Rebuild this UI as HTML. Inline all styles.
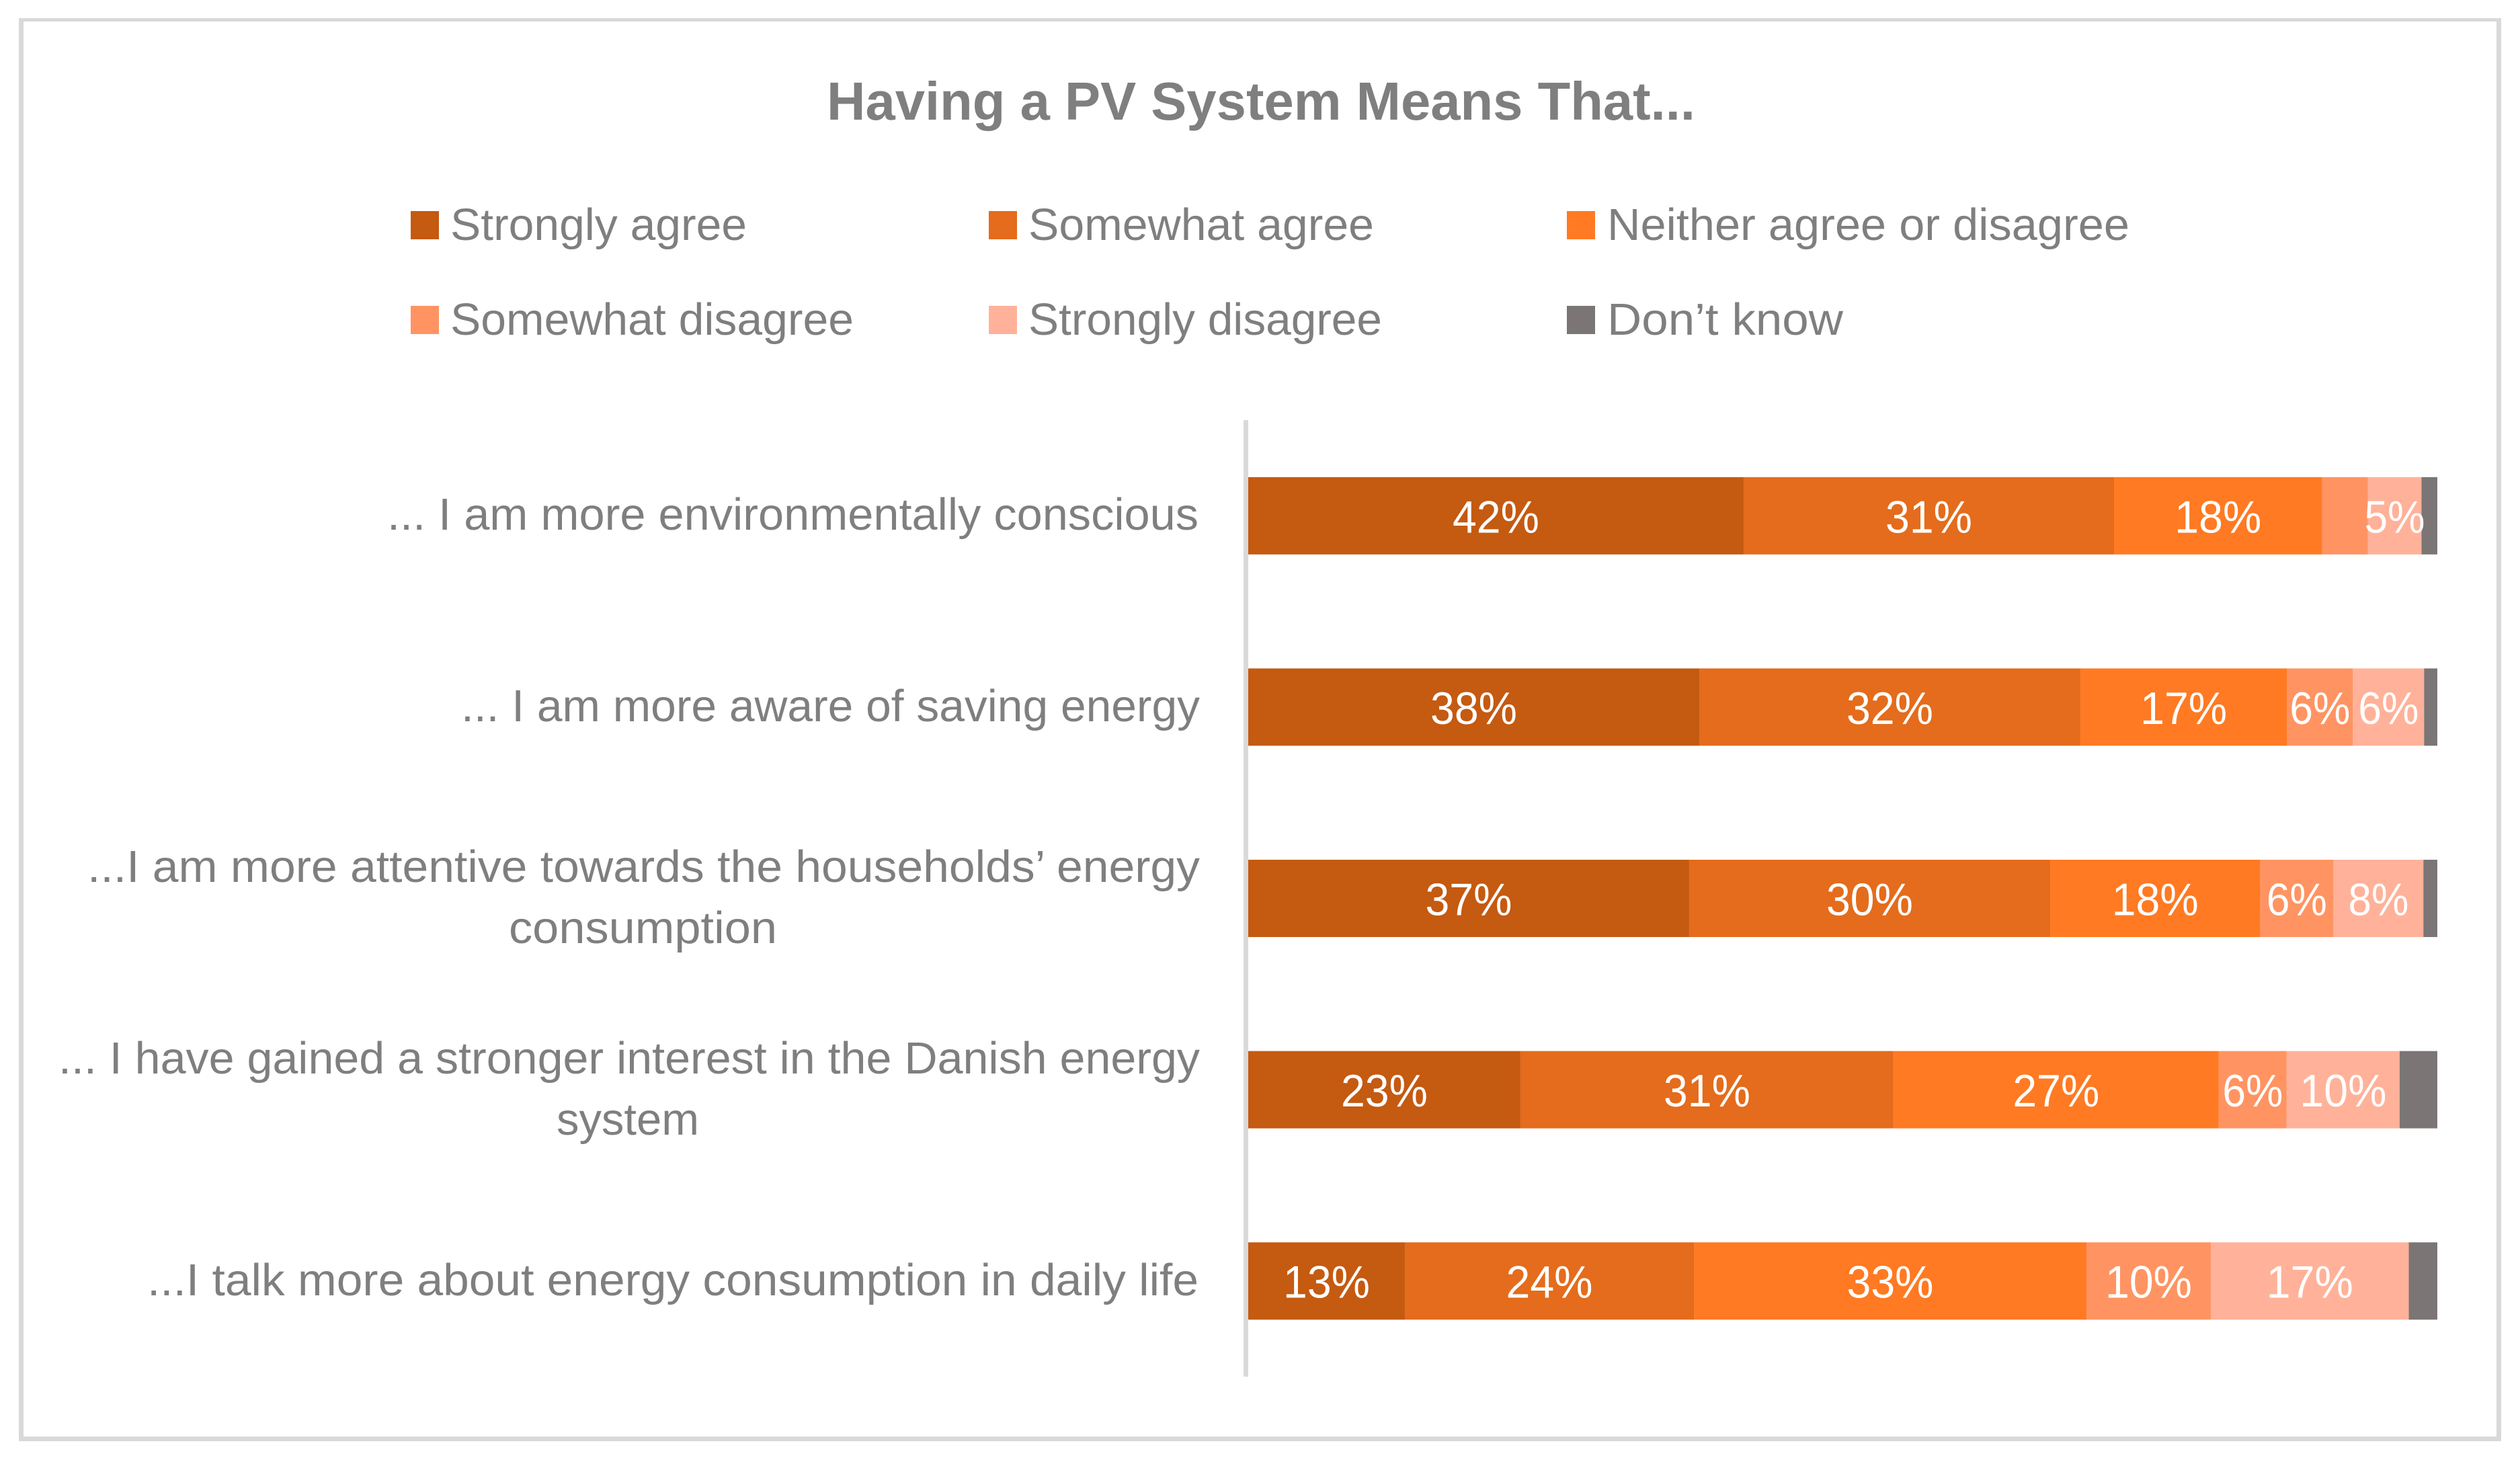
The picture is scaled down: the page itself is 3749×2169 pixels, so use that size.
<!DOCTYPE html>
<html lang="en">
<head>
<meta charset="utf-8">
<title>Having a PV System Means That...</title>
<style>
  html, body { margin: 0; padding: 0; background: #ffffff; }
  svg { display: block; }
  text { font-family: "Liberation Sans", sans-serif; }
  .txt { fill: #7f7f7f; font-size: 67px; }
  .val { fill: #ffffff; font-size: 68px; text-anchor: middle; }
</style>
</head>
<body>
<svg id="chart" xmlns="http://www.w3.org/2000/svg" width="3749" height="2169" viewBox="0 0 3749 2169">
  <rect x="0" y="0" width="3749" height="2169" fill="#ffffff"/>
  <path fill="#d9d9d9" fill-rule="evenodd" d="M28 27H3721V2144H28Z M35 32V2137H3714V32Z"/>

  <text x="1230" y="178" font-size="80" font-weight="700" fill="#7f7f7f" textLength="1292" lengthAdjust="spacingAndGlyphs">Having a PV System Means That...</text>

  <g>
    <g>
      <rect x="611" y="314" width="42" height="42" fill="#c55a11"/>
      <text class="txt" x="670" y="357" textLength="441" lengthAdjust="spacingAndGlyphs">Strongly agree</text>
    </g>
    <g>
      <rect x="1471" y="314" width="42" height="42" fill="#e46c1c"/>
      <text class="txt" x="1530" y="357" textLength="514" lengthAdjust="spacingAndGlyphs">Somewhat agree</text>
    </g>
    <g>
      <rect x="2331" y="314" width="42" height="42" fill="#ff7a22"/>
      <text class="txt" x="2391" y="357" textLength="777" lengthAdjust="spacingAndGlyphs">Neither agree or disagree</text>
    </g>
    <g>
      <rect x="611" y="455" width="42" height="42" fill="#ff9462"/>
      <text class="txt" x="670" y="498" textLength="600" lengthAdjust="spacingAndGlyphs">Somewhat disagree</text>
    </g>
    <g>
      <rect x="1471" y="455" width="42" height="42" fill="#ffb299"/>
      <text class="txt" x="1530" y="498" textLength="526" lengthAdjust="spacingAndGlyphs">Strongly disagree</text>
    </g>
    <g>
      <rect x="2331" y="455" width="42" height="42" fill="#7b7575"/>
      <text class="txt" x="2391" y="498" textLength="351" lengthAdjust="spacingAndGlyphs">Don’t know</text>
    </g>
  </g>

  <g>
    <text class="txt" x="576" y="788" textLength="1207" lengthAdjust="spacingAndGlyphs">... I am more environmentally conscious</text>
    <text class="txt" x="686" y="1073" textLength="1099" lengthAdjust="spacingAndGlyphs">... I am more aware of saving energy</text>
    <text class="txt" x="130" y="1312" textLength="1655" lengthAdjust="spacingAndGlyphs">...I am more attentive towards the households’ energy</text>
    <text class="txt" x="757" y="1403" textLength="399" lengthAdjust="spacingAndGlyphs">consumption</text>
    <text class="txt" x="87" y="1597" textLength="1698" lengthAdjust="spacingAndGlyphs">... I have gained a stronger interest in the Danish energy</text>
    <text class="txt" x="828" y="1688" textLength="212" lengthAdjust="spacingAndGlyphs">system</text>
    <text class="txt" x="219" y="1927" textLength="1564" lengthAdjust="spacingAndGlyphs">...I talk more about energy consumption in daily life</text>
  </g>

  <rect x="1850" y="625" width="7" height="1423" fill="#d9d9d9"/>
  <g id="bars"></g>
  <g id="values"></g>
</svg>

<script>
// Chart data: share of respondents (percent).
const categories = ['environmentally-conscious', 'aware-of-saving', 'attentive-to-consumption', 'interest-in-energy-system', 'talk-about-consumption'];
const seriesNames = ['strongly-agree', 'somewhat-agree', 'neither', 'somewhat-disagree', 'strongly-disagree', 'dont-know'];
const stronglyAgree = [41.66, 37.93, 37.08, 22.89, 13.17];
const somewhatAgree = [31.15, 32.05, 30.36, 31.37, 24.31];
const neitherAgree = [17.50, 17.38, 17.66, 27.36, 33.01];
const somewhatDisagree = [3.84, 5.54, 6.16, 5.71, 10.46];
const stronglyDisagree = [4.52, 5.99, 7.57, 9.50, 16.65];
const dontKnow = [1.33, 1.11, 1.17, 3.17, 2.40];
const stronglyAgreeLabels = ['42%', '38%', '37%', '23%', '13%'];
const somewhatAgreeLabels = ['31%', '32%', '30%', '31%', '24%'];
const neitherAgreeLabels = ['18%', '17%', '18%', '27%', '33%'];
const somewhatDisagreeLabels = ['', '6%', '6%', '6%', '10%'];
const stronglyDisagreeLabels = ['5%', '6%', '8%', '10%', '17%'];
const dontKnowLabels = ['', '', '', '', ''];

const seriesValues = [stronglyAgree, somewhatAgree, neitherAgree, somewhatDisagree, stronglyDisagree, dontKnow];
const seriesLabels = [stronglyAgreeLabels, somewhatAgreeLabels, neitherAgreeLabels, somewhatDisagreeLabels, stronglyDisagreeLabels, dontKnowLabels];
const seriesColors = ['#c55a11', '#e46c1c', '#ff7a22', '#ff9462', '#ffb299', '#7b7575'];

const SVG_NS = 'http://www.w3.org/2000/svg';
const barHeight = 115;
function xScale(v) { return 1857 + v * 17.69; }
function yScale(i) { return 625 + (i + 0.5) * (1423 / categories.length); }

const barsLayer = document.getElementById('bars');
const valuesLayer = document.getElementById('values');

categories.forEach(function (category, i) {
  let cumulative = 0;
  seriesValues.forEach(function (values, s) {
    const x0 = xScale(cumulative);
    const x1 = xScale(cumulative + values[i]);
    cumulative += values[i];

    const rect = document.createElementNS(SVG_NS, 'rect');
    rect.setAttribute('x', x0);
    rect.setAttribute('y', yScale(i) - barHeight / 2);
    rect.setAttribute('width', x1 - x0);
    rect.setAttribute('height', barHeight);
    rect.setAttribute('fill', seriesColors[s]);
    
    
    barsLayer.appendChild(rect);

    const printed = seriesLabels[s][i];
    if (printed) {
      const label = document.createElementNS(SVG_NS, 'text');
      label.setAttribute('class', 'val');
      label.setAttribute('x', (x0 + x1) / 2);
      label.setAttribute('y', yScale(i) + 25);
      label.setAttribute('textLength', printed.length === 3 ? 129 : 90);
      label.setAttribute('lengthAdjust', 'spacingAndGlyphs');
      label.textContent = printed;
      
      
      valuesLayer.appendChild(label);
    }
  });
});
</script>
</body>
</html>
